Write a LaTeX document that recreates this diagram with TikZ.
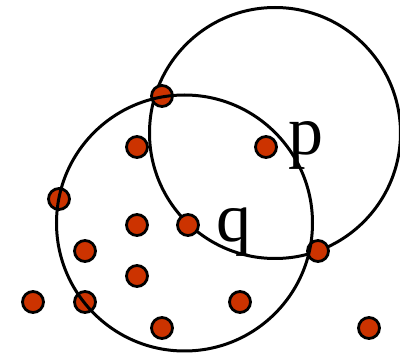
\documentclass[tikz,border=0pt]{standalone}
\usepackage{fontspec}
\setmainfont{Liberation Serif}
\definecolor{dotred}{RGB}{204,51,0}
\begin{document}
\begin{tikzpicture}[x=1pt,y=-1pt,
  bigring/.style={circle,draw=black,line width=3pt,inner sep=0pt,fill=none},
  pt/.style={circle,draw=black,line width=2.8pt,fill=dotred,inner sep=0pt,minimum size=21pt},
  lbl/.style={anchor=base west,inner sep=0pt,font=\fontsize{70}{70}\selectfont}]
\useasboundingbox (0,0) rectangle (400,353);
% right circle (behind dots)
\node[bigring,minimum size=251pt] (R) at (275,133) {};
% dots
\node[pt] (d1) at (162,96) {};
\node[pt] (d2) at (137,147) {};
\node[pt] (d3) at (266,147) {};
\node[pt] (d4) at (59,199) {};
\node[pt] (d5) at (137,225) {};
\node[pt] (d6) at (188,225) {};
\node[pt] (d7) at (85,251) {};
\node[pt] (d8) at (318,251) {};
\node[pt] (d9) at (137,276) {};
\node[pt] (d10) at (33,302) {};
\node[pt] (d11) at (85,302) {};
\node[pt] (d12) at (240,302) {};
\node[pt] (d13) at (162,328) {};
\node[pt] (d14) at (369,328) {};
% left circle (over dots)
\node[bigring,minimum size=256pt] (L) at (184.5,223) {};
% labels
\node[lbl] (p) at (288,154.5) {p};
\node[lbl] (q) at (216.5,242) {q};
\end{tikzpicture}
\end{document}
